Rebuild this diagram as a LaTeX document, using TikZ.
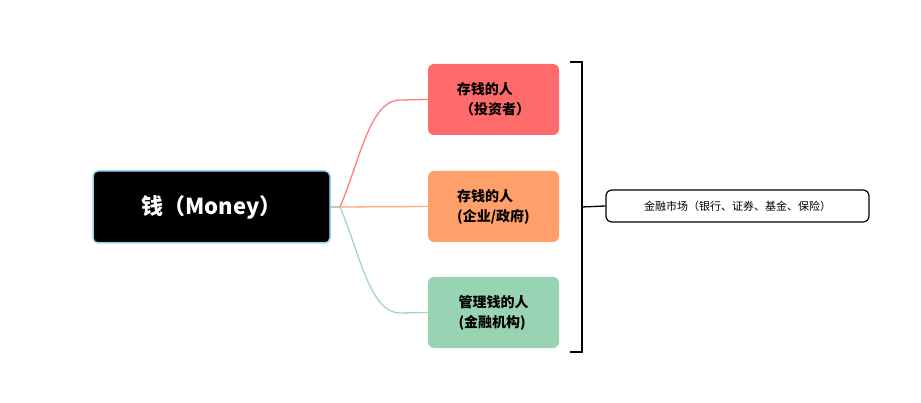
\documentclass[tikz,border=0pt]{standalone}
\usepackage{fontspec}
\setmainfont{Noto Sans CJK SC}
\begin{document}
\begin{tikzpicture}[x=1pt,y=-1pt,
  child/.style={rounded corners=6pt,minimum width=131pt,minimum height=71pt,inner sep=0pt,font=\bfseries\fontsize{14}{20}\selectfont,align=left},
  conn/.style={line width=1.3pt}]
\useasboundingbox[fill=white] (0,0) rectangle (921,403);
\node[draw={rgb,255:red,150;green,215;blue,245},line width=1.5pt,fill=black,rounded corners=5pt,minimum width=237pt,minimum height=72pt,text=white,font=\bfseries\fontsize{22}{26}\selectfont] (root) at (211.5,207) {钱（Money）};
\node[child,fill={rgb,255:red,255;green,107;blue,107}] (a) at (493.5,99.5) {存钱的人\\\ （投资者）};
\node[child,fill={rgb,255:red,255;green,160;blue,106}] (b) at (493.5,206.5) {存钱的人\\ (企业/政府)};
\node[child,fill={rgb,255:red,152;green,212;blue,180}] (c) at (493.5,312.5) {管理钱的人\\(金融机构)};
\coordinate (s) at (340,207);
\draw[conn,draw={rgb,255:red,255;green,125;blue,125}] (root.east) -- (s) .. controls (360,160) and (370,100) .. (400,100) -- (a.west);
\draw[conn,draw={rgb,255:red,255;green,170;blue,120}] (s) -- (b.west);
\draw[conn,draw={rgb,255:red,160;green,218;blue,190}] (root.east) -- (s) .. controls (360,254) and (370,313) .. (400,313) -- (c.west);
\coordinate (t1) at (570,62);
\coordinate (t2) at (570,352);
\coordinate (m) at (582,207);
\draw[line width=1.3pt] (t1) -| (m) |- (t2);
\node[draw,line width=1.2pt,rounded corners=6pt,minimum width=263pt,minimum height=32pt,font=\fontsize{11}{13}\selectfont] (r) at (737.5,206) {金融市场（银行、证券、基金、保险）};
\draw[line width=1.3pt] (m) -- (r.west);
\end{tikzpicture}
\end{document}
